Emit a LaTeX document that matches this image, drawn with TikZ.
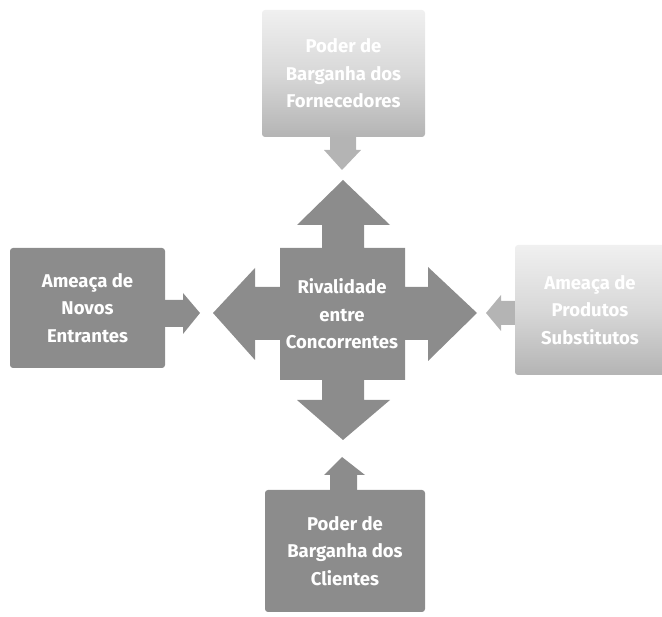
\documentclass[tikz,border=0pt]{standalone}
\usepackage{fontspec}
\newfontfamily\lblfont{Fira Sans}
\usetikzlibrary{shapes.arrows}
\definecolor{fgray}{HTML}{8C8C8C}
\definecolor{lgtop}{HTML}{F0F0F0}
\definecolor{lgbot}{HTML}{B4B4B4}
\tikzset{
  darkbox/.style={fill=fgray, draw=none, rounded corners=3pt},
  lightbox/.style={top color=lgtop, bottom color=lgbot, middle color=lgtop!60!lgbot, draw=none, rounded corners=3pt},
  lbl/.style={text=white, font=\lblfont\bfseries\fontsize{18.5}{27.5}\selectfont, align=center},
  crossfill/.style={fill=fgray, draw=none},
  smallarrow/.style={fill=fgray, draw=none},
  lightarrow/.style={fill=lgbot, draw=none}
}
\begin{document}
\begin{tikzpicture}[x=1pt,y=-1pt]
\useasboundingbox (0,0) rectangle (662,617);
% boxes
\node[lightbox, minimum width=163pt, minimum height=127pt, inner sep=0pt] (top) at (343.5,73.5) {};
\node[lbl, text=white] (toptxt) at (top) {Poder de\\Barganha dos\\Fornecedores};
\node[darkbox, minimum width=155pt, minimum height=120pt, inner sep=0pt] (left) at (87.5,308) {};
\node[lbl] (lefttxt) at (left) {Ameaça de\\Novos\\Entrantes};
\node[lightbox, minimum width=150pt, minimum height=130pt, inner sep=0pt] (right) at (590,310) {};
\node[lbl] (righttxt) at (right) {Ameaça de\\Produtos\\Substitutos};
\node[darkbox, minimum width=160pt, minimum height=122pt, inner sep=0pt] (bottom) at (345,551) {};
\node[lbl] (bottomtxt) at (bottom) {Poder de\\Barganha dos\\Clientes};
% central cross
\fill[crossfill] (343,180) -- (390,225) -- (364,225) -- (364,248) -- (405,248) -- (405,287)
  -- (428,287) -- (428,267) -- (477,313) -- (428,361) -- (428,340) -- (405,340) -- (405,380)
  -- (364,380) -- (364,400) -- (390,400) -- (343,440) -- (297,400) -- (322,400) -- (322,380)
  -- (280,380) -- (280,340) -- (255,340) -- (255,360) -- (213,313) -- (255,268) -- (255,287)
  -- (280,287) -- (280,248) -- (322,248) -- (322,225) -- (297,225) -- cycle;
\node[lbl] (center) at (342,314) {Rivalidade\\entre\\Concorrentes};
% small arrows
\coordinate (ltip) at (200,313);
\fill[smallarrow] (left.east |- 0,300) -- (183,300) -- (183,293) -- (ltip) -- (183,334) -- (183,327) -- (left.east |- 0,327) -- cycle;
\coordinate (rtip) at (486,313);
\fill[lightarrow] (right.west |- 0,301) -- (501,301) -- (501,295) -- (rtip) -- (501,331) -- (501,325) -- (right.west |- 0,325) -- cycle;
\coordinate (ttip) at (342,170);
\fill[lightarrow] (330,0 |- top.south) -- (330,150) -- (324,150) -- (ttip) -- (361,150) -- (356,150) -- (356,0 |- top.south) -- cycle;
\coordinate (btip) at (342,457);
\fill[smallarrow] (330,0 |- bottom.north) -- (330,475) -- (324,475) -- (btip) -- (365,475) -- (357,475) -- (357,0 |- bottom.north) -- cycle;
\end{tikzpicture}
\end{document}
